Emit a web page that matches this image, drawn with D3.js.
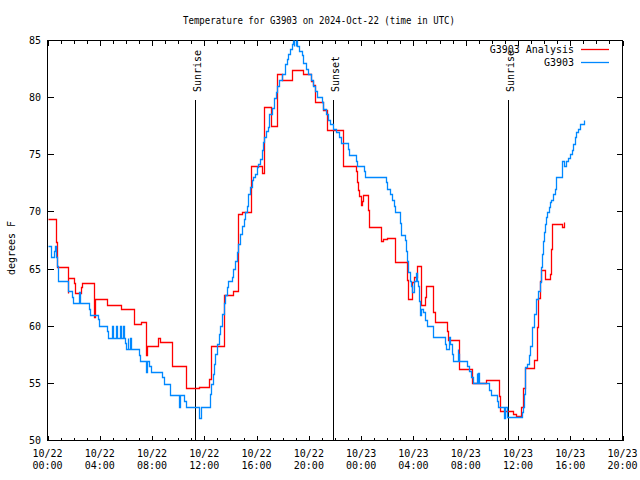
<!DOCTYPE html>
<html><head><meta charset="utf-8">
<script src="https://cdn.jsdelivr.net/npm/d3@7"></script>
<style>
body{margin:0;background:#fff}
svg{display:block}
text{font-family:"DejaVu Sans Mono","Liberation Mono",monospace;font-size:10px;fill:#000}
</style>
</head><body><svg id="c" width="640" height="480"></svg>
<script>
const titleText = "Temperature for G3903 on 2024-Oct-22 (time in UTC)";
const yAxisLabel = "degrees F";
const yTickValues = [50,55,60,65,70,75,80,85];
const xMajorHours = [0,4,8,12,16,20,24,28,32,36,40,44];
const xMajorLabels = [["10/22","00:00"],["10/22","04:00"],["10/22","08:00"],["10/22","12:00"],["10/22","16:00"],["10/22","20:00"],
                      ["10/23","00:00"],["10/23","04:00"],["10/23","08:00"],["10/23","12:00"],["10/23","16:00"],["10/23","20:00"]];
const sunHours = [11.25, 21.88, 35.27];
const sunLabels = ["Sunrise","Sunset","Sunrise"];
const seriesNames = ["G3903 Analysis","G3903"];
const seriesColors = ["#ff0000","#0088ff"];

// hours since 10/22 00:00 UTC, degrees F
const analysis = [
[0.00,69.4],[0.63,67.35],[0.74,65.2],[1.55,62.9],[1.60,64.2],[2.04,63.8],[2.14,62.9],[2.57,63.4],[2.62,63.8],
[3.55,60.8],[3.63,62.35],[4.56,61.9],[5.65,61.5],[6.65,60.2],[7.16,60.4],[7.56,57.5],[7.64,58.3],[8.43,59.0],
[8.63,58.6],[9.53,56.5],[10.60,54.6],[11.57,54.7],[12.32,55.4],[12.53,58.3],[13.54,62.75],[14.19,63.1],
[14.57,69.85],[14.92,70.0],[15.56,74.06],[16.40,73.4],[16.58,79.2],[17.09,77.5],[17.59,82.1],[17.93,81.55],
[18.69,82.4],[19.58,82.1],[20.13,81.5],[20.34,81.1],[20.47,79.6],[21.09,78.9],[21.37,77.2],[22.59,74.06],
[23.58,73.6],[23.66,72.6],[23.78,71.9],[23.86,71.4],[23.97,70.6],[24.03,71.0],[24.16,71.5],[24.55,70.2],
[24.62,68.7],[25.49,67.5],[25.65,67.6],[25.95,67.7],[26.59,65.6],[27.52,64.05],[27.60,62.4],[27.91,63.9],
[28.04,64.3],[28.24,65.3],[28.55,61.9],[28.90,62.55],[28.98,63.5],[29.51,61.2],[29.69,60.4],[30.58,59.6],
[30.67,58.8],[31.50,56.3],[32.52,55.0],[33.54,55.3],[34.55,53.9],[34.66,52.6],[35.62,52.3],[35.88,52.15],
[36.26,52.9],[36.39,54.6],[36.57,56.35],[37.20,57.05],[37.46,59.9],[37.53,62.5],[37.66,64.0],[37.79,64.9],
[38.04,64.15],[38.48,64.6],[38.56,66.8],[38.63,68.9],[39.40,68.7],[39.52,69.1],[39.56,69.1]
];

const station = [
[0.00,67.05],[0.28,66.05],[0.48,66.6],[0.56,67.05],[0.63,66.05],[0.74,65.3],[0.80,64.0],[1.58,63.05],[1.89,62.55],
[1.93,62.0],[2.44,63.0],[2.52,62.0],[3.16,61.5],[3.23,61.0],[3.84,60.6],[3.92,60.05],[4.56,59.55],[4.64,59.0],
[4.97,60.05],[5.04,59.0],[5.27,60.05],[5.35,59.0],[5.58,60.05],[5.65,59.0],[5.81,60.05],[5.88,59.0],[5.96,58.55],
[6.04,58.0],[6.13,59.0],[6.19,58.0],[6.34,59.0],[6.42,58.0],[6.97,57.5],[7.05,56.95],[7.56,56.0],[7.62,56.95],
[7.79,56.5],[7.95,56.0],[8.76,55.55],[8.88,54.95],[9.34,54.5],[9.40,54.0],[10.03,52.9],[10.12,54.0],[10.41,53.5],
[10.57,52.95],[11.63,52.0],[11.73,52.95],[12.41,54.1],[12.51,54.95],[12.63,55.85],[12.73,56.7],[12.83,57.6],
[12.96,58.45],[13.09,59.3],[13.22,60.05],[13.34,61.1],[13.47,62.0],[13.60,62.7],[13.73,63.4],[13.80,64.0],
[14.11,64.3],[14.23,65.0],[14.36,65.75],[14.49,66.5],[14.61,67.2],[14.74,68.1],[14.87,68.8],[15.00,69.4],
[15.13,70.0],[15.26,70.55],[15.38,71.6],[15.51,72.2],[15.64,72.75],[15.71,73.05],[15.89,73.35],[16.02,73.9],
[16.14,74.2],[16.27,74.65],[16.40,75.4],[16.48,76.1],[16.58,76.55],[16.73,77.1],[16.91,77.4],[16.98,78.6],
[17.15,79.1],[17.34,80.0],[17.49,80.5],[17.59,81.05],[17.75,81.55],[17.93,82.1],[18.18,82.9],[18.31,83.4],
[18.43,83.8],[18.56,84.3],[18.69,84.7],[18.77,85.2],[18.83,84.55],[18.89,85.2],[18.98,84.55],[19.04,85.2],
[19.12,84.55],[19.27,84.1],[19.46,83.7],[19.53,83.0],[19.79,82.5],[19.96,82.1],[20.14,81.55],[20.30,81.05],
[20.47,80.6],[20.60,80.1],[20.99,79.6],[21.11,79.0],[21.31,78.6],[21.49,78.05],[21.62,77.7],[21.87,77.25],
[22.08,76.95],[22.31,76.55],[22.44,76.0],[23.02,75.5],[23.10,74.95],[23.58,74.5],[23.66,74.05],[24.24,73.6],
[24.32,73.1],[25.90,72.6],[26.00,72.0],[26.20,71.6],[26.33,71.05],[26.51,70.55],[26.59,70.0],[26.97,69.0],
[27.04,68.0],[27.35,67.55],[27.43,66.6],[27.52,65.75],[27.60,64.7],[27.73,64.0],[27.81,63.55],[27.91,63.0],
[28.04,63.95],[28.17,64.65],[28.27,64.0],[28.37,63.55],[28.44,62.25],[28.50,61.0],[28.55,61.5],[28.75,61.2],
[28.88,60.55],[29.01,60.05],[29.47,59.5],[29.51,59.05],[30.40,58.45],[30.48,58.0],[30.73,59.05],[30.79,58.45],
[30.92,57.6],[31.04,57.0],[31.38,58.0],[31.44,57.6],[31.50,57.0],[32.11,56.55],[32.26,56.05],[32.44,55.55],
[32.57,55.0],[32.83,55.9],[32.89,55.0],[32.98,55.9],[33.04,55.0],[33.79,54.4],[33.90,54.0],[34.40,53.5],
[34.48,52.95],[34.92,52.0],[34.99,52.95],[35.19,52.05],[36.31,52.5],[36.39,52.9],[36.47,54.1],[36.57,56.4],
[36.69,56.7],[36.82,57.45],[36.95,58.3],[37.07,59.9],[37.22,61.1],[37.41,62.4],[37.53,63.05],[37.66,63.85],
[37.79,65.15],[37.87,66.3],[37.92,67.5],[37.99,68.2],[38.10,68.95],[38.18,69.55],[38.25,70.0],[38.35,70.4],
[38.43,70.85],[38.56,71.05],[38.68,71.6],[38.81,72.0],[38.94,73.1],[39.40,74.5],[39.52,74.05],[39.65,74.5],
[39.83,74.7],[39.98,75.1],[40.11,75.4],[40.21,75.95],[40.34,76.55],[40.46,77.0],[40.59,77.25],[40.77,77.7],
[41.03,78.05],[41.05,78.05]
];

const svg = d3.select("#c");
const L = 47.5, R = 622.5, T = 40.5, B = 440.5;
const x = d3.scaleLinear().domain([0,44]).range([L,R]);
const y = d3.scaleLinear().domain([50,85]).range([B,T]);

svg.append("rect").attr("width",640).attr("height",480).attr("fill","#fff");

svg.append("defs").append("clipPath").attr("id","plot")
  .append("rect").attr("x",L).attr("y",T).attr("width",R-L).attr("height",B-T);

// title
svg.append("text").attr("x",319).attr("y",24).attr("text-anchor","middle")
  .attr("textLength",272).attr("lengthAdjust","spacingAndGlyphs").text(titleText);

// y label
svg.append("text").attr("transform","translate(15,248) rotate(-90)")
  .attr("text-anchor","middle").text(yAxisLabel);

// ticks
const g = svg.append("g").attr("stroke","#000").attr("stroke-width",1).attr("shape-rendering","crispEdges");
d3.range(0,45,1).forEach(h => {
  const major = h % 4 === 0;
  const len = major ? 5 : 3;
  const xx = Math.round(x(h)) + 0.5;
  g.append("line").attr("x1",xx).attr("x2",xx).attr("y1",B).attr("y2",B-len);
  g.append("line").attr("x1",xx).attr("x2",xx).attr("y1",T).attr("y2",T+len);
});
yTickValues.forEach(v => {
  const yy = Math.round(y(v)-0.5)+0.5;
  g.append("line").attr("x1",L).attr("x2",L+6).attr("y1",yy).attr("y2",yy);
  g.append("line").attr("x1",R).attr("x2",R-6).attr("y1",yy).attr("y2",yy);
});

// tick labels
xMajorHours.forEach((h,i) => {
  const t = svg.append("text").attr("x",x(h)).attr("text-anchor","middle");
  t.append("tspan").attr("x",x(h)).attr("y",457).text(xMajorLabels[i][0]);
  t.append("tspan").attr("x",x(h)).attr("y",469).text(xMajorLabels[i][1]);
});
yTickValues.forEach(v => {
  svg.append("text").attr("x",41).attr("y",y(v)+3.5).attr("text-anchor","end").text(v);
});

// sun lines
sunHours.forEach((h,i) => {
  const xx = Math.round(x(h)) + 0.5;
  g.append("line").attr("x1",xx).attr("x2",xx).attr("y1",100).attr("y2",B);
  svg.append("text").attr("transform",`translate(${xx+5},92) rotate(-90)`)
    .attr("text-anchor","start").text(sunLabels[i]);
});

// series
const line = d3.line().x(d => Math.round(x(d[0]))+0.5).y(d => Math.round(y(d[1]))+0.5).curve(d3.curveStepAfter);
const plot = svg.append("g").attr("clip-path","url(#plot)");
[analysis, station].forEach((s,i) => {
  plot.append("path").datum(s).attr("d",line).attr("fill","none")
    .attr("stroke",seriesColors[i]).attr("stroke-width",1.3).attr("stroke-linejoin","miter");
});

// frame
g.append("rect").attr("x",L).attr("y",T).attr("width",R-L).attr("height",B-T).attr("fill","none");

// legend
seriesNames.forEach((n,i) => {
  const yy = 49.5 + i*13;
  svg.append("text").attr("x",574).attr("y",yy+3.5).attr("text-anchor","end").text(n);
  svg.append("line").attr("x1",581).attr("x2",609).attr("y1",yy).attr("y2",yy)
    .attr("stroke",seriesColors[i]).attr("stroke-width",1.3);
});
</script>
</body></html>
